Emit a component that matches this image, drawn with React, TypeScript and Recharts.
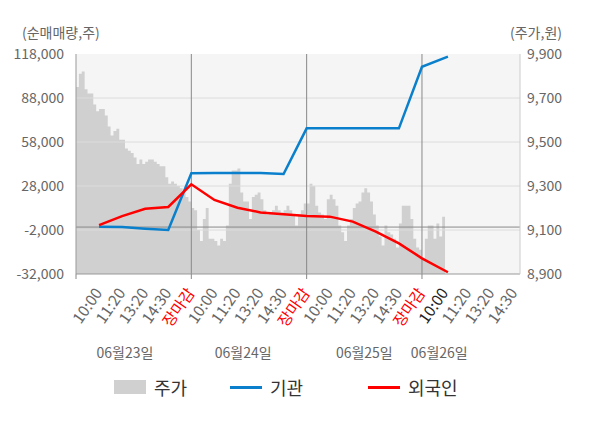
import {
  Area,
  CartesianGrid,
  ComposedChart,
  Line,
  ReferenceLine,
  XAxis,
  YAxis,
} from 'recharts'

// 4거래일 분봉 차트: 주가(면적) + 기관/외국인 누적 순매매량(선)
// x축 단위: 하루 = 40칸 (09:00 ~ 장마감)

const FONT = '"Noto Sans CJK KR", "Noto Sans", sans-serif'
const DAY_UNITS = 40
const X_MAX = 154

const dayLabels = ['06월23일', '06월24일', '06월25일', '06월26일']
const dayLabelAt = [17, 58, 100, 126]
const sessionLabels = ['10:00', '11:20', '13:20', '14:30', '장마감']
const sessionOffsets = [8, 16, 24, 32, 40]

// 주가 (원), 한 칸마다 한 값
const priceDay1 = [
  9750, 9810, 9820, 9740, 9720, 9720, 9670, 9640, 9650, 9650,
  9620, 9570, 9530, 9550, 9560, 9510, 9510, 9470, 9460, 9450,
  9430, 9400, 9420, 9400, 9410, 9420, 9420, 9410, 9400, 9390,
  9390, 9340, 9310, 9320, 9310, 9300, 9290, 9270, 9250, 9230,
]
const priceDay2 = [
  9200, 9190, 9100, 9050, 9150, 9200, 9060, 9060, 9050, 9030,
  9060, 9050, 9120, 9310, 9370, 9370, 9380, 9270, 9230, 9230,
  9150, 9250, 9260, 9270, 9240, 9190, 9170, 9180, 9190, 9210,
  9190, 9180, 9190, 9210, 9190, 9170, 9120, 9170, 9190, 9220,
]
const priceDay3 = [
  9220, 9310, 9300, 9210, 9180, 9170, 9150, 9240, 9260, 9240,
  9210, 9120, 9090, 9050, 9120, 9150, 9200, 9220, 9230, 9270,
  9290, 9270, 9230, 9170, 9120, 9070, 9030, 9120, 9090, 9080,
  9060, 9020, 9130, 9210, 9210, 9210, 9150, 9060, 9020, 9010,
]
const priceDay4 = [8970, 9060, 9120, 9120, 9060, 9130, 9070, 9160, 9140]
const price = [...priceDay1, ...priceDay2, ...priceDay3, ...priceDay4]

// 누적 순매매량 (주)
const flowTimes = [8, 16, 24, 32, 40, 48, 56, 64, 72, 80, 88, 96, 104, 112, 120, 129]
const institution = [
  200, 100, -1100, -2000, 36700, 36800, 36800, 36800, 36200, 67300,
  67300, 67300, 67300, 67300, 109300, 116200,
]
const foreigner = [
  1300, 7500, 12500, 13700, 29200, 18500, 13200, 10000, 8700, 7600,
  7100, 3700, -3100, -11100, -21300, -30800,
]

const leftTicks = [-32000, -2000, 28000, 58000, 88000, 118000]
const rightTicks = [8900, 9100, 9300, 9500, 9700, 9900]
const gridValues = [-2000, 28000, 58000, 88000]
const dayBreaks = [0, 40, 80, 120]

const series = [
  { key: 'price', name: '주가', color: '#d0d0d0' },
  { key: 'inst', name: '기관', color: '#0a80cc' },
  { key: 'frg', name: '외국인', color: '#ff0000' },
]

const lastT = Math.max(price.length - 1, flowTimes[flowTimes.length - 1])
const chartData = Array.from({ length: lastT + 1 }, (_, t) => {
  const k = flowTimes.indexOf(t)
  return {
    t,
    price: price[t],
    inst: k >= 0 ? institution[k] : undefined,
    frg: k >= 0 ? foreigner[k] : undefined,
  }
})

const timeTicks = dayLabels
  .flatMap((_, d) =>
    sessionOffsets.map((o, i) => ({ t: d * DAY_UNITS + o, label: sessionLabels[i], day: d }))
  )
  .filter((tk) => tk.t <= X_MAX)
const currentT = timeTicks.find((tk) => tk.day === dayLabels.length - 1)?.t
const tickInfo = new Map(timeTicks.map((tk) => [tk.t, tk]))
const xTicks = Array.from(new Set([0, ...timeTicks.map((tk) => tk.t)])).sort((a, b) => a - b)

const fmt = (v: number) => v.toLocaleString('en-US')

function TimeTick({ x, y, payload }: { x?: number; y?: number; payload?: { value: number } }) {
  if (x == null || y == null || !payload) return null
  const info = tickInfo.get(payload.value)
  const isBreak = dayBreaks.includes(payload.value)
  let color = '#666'
  if (info?.label === '장마감') color = '#ff0000'
  else if (payload.value === currentT) color = '#222'
  return (
    <g>
      {isBreak && <line x1={x} x2={x} y1={y} y2={y + 5} stroke="#888" />}
      {info && (
        <text
          transform={`translate(${x + 4},${y + 19}) rotate(-55)`}
          textAnchor="end"
          fontSize={15.5}
          fill={color}
        >
          {info.label}
        </text>
      )}
    </g>
  )
}

function AxisTitle({
  viewBox,
  text,
  side,
}: {
  viewBox?: { x: number; y: number; width: number; height: number }
  text: string
  side: 'left' | 'right'
}) {
  if (!viewBox) return null
  const x = side === 'left' ? viewBox.x + 14 : viewBox.x + 16
  return (
    <text
      x={x}
      y={viewBox.y - 16}
      textAnchor={side === 'left' ? 'start' : 'middle'}
      fontSize={14}
      fill="#666"
    >
      {text}
    </text>
  )
}

function ChartLegend() {
  const widths = [116, 138, undefined]
  return (
    <div
      style={{
        position: 'absolute',
        left: 114,
        top: 374,
        display: 'flex',
        alignItems: 'center',
        fontFamily: FONT,
        fontSize: 18,
        color: '#333',
      }}
    >
      {series.map((s, i) => (
        <div key={s.key} style={{ display: 'flex', alignItems: 'center', width: widths[i] }}>
          <span
            style={{
              display: 'inline-block',
              width: 32,
              height: s.key === 'price' ? 14 : 3,
              background: s.color,
              marginRight: 8,
            }}
          />
          <span>{s.name}</span>
        </div>
      ))}
    </div>
  )
}

export default function App() {
  return (
    <div style={{ position: 'absolute', left: 0, top: 0, width: 600, height: 428, fontFamily: FONT }}>
      <ComposedChart
        width={600}
        height={428}
        data={chartData}
        margin={{ top: 54, right: 8, bottom: 60, left: 8 }}
        style={{ fontFamily: FONT }}
      >
        <CartesianGrid yAxisId="left" fill="#f5f5f5" horizontal={false} vertical={false} />
        <XAxis
          dataKey="t"
          type="number"
          domain={[0, X_MAX]}
          ticks={xTicks}
          interval={0}
          height={64}
          tickSize={0}
          tickMargin={0}
          tickLine={false}
          axisLine={{ stroke: '#999' }}
          tick={<TimeTick />}
        />
        <XAxis
          xAxisId="date"
          dataKey="t"
          type="number"
          domain={[0, X_MAX]}
          ticks={dayLabelAt}
          interval={0}
          height={30}
          tickSize={0}
          tickMargin={10}
          tickLine={false}
          axisLine={false}
          tickFormatter={(v: number) => dayLabels[dayLabelAt.indexOf(v)] ?? ''}
          tick={{ fontSize: 14, fill: '#666' }}
        />
        <YAxis
          yAxisId="left"
          domain={[-32000, 118000]}
          ticks={leftTicks}
          interval={0}
          width={68}
          tickLine={false}
          tickMargin={6}
          axisLine={{ stroke: '#999' }}
          tickFormatter={fmt}
          tick={{ fontSize: 14, fill: '#666' }}
          label={<AxisTitle text="(순매매량,주)" side="left" />}
        />
        <YAxis
          yAxisId="right"
          orientation="right"
          domain={[8900, 9900]}
          ticks={rightTicks}
          interval={0}
          width={72}
          tickLine={false}
          tickMargin={1}
          axisLine={{ stroke: '#ccc' }}
          tickFormatter={fmt}
          tick={{ fontSize: 14, fill: '#666' }}
          label={<AxisTitle text="(주가,원)" side="right" />}
        />
        <Area
          yAxisId="right"
          dataKey="price"
          type="stepAfter"
          fill="#d0d0d0"
          fillOpacity={1}
          stroke="none"
          baseValue={8900}
          isAnimationActive={false}
          activeDot={false}
        />
        {gridValues.map((v) => (
          <ReferenceLine key={v} yAxisId="left" y={v} stroke="#dcdcdc" />
        ))}
        <ReferenceLine yAxisId="left" y={0} stroke="#888" />
        {dayBreaks.slice(1).map((v) => (
          <ReferenceLine key={v} yAxisId="left" x={v} stroke="#888" />
        ))}
        <Line
          yAxisId="left"
          dataKey="inst"
          stroke="#0a80cc"
          strokeWidth={2.5}
          dot={false}
          connectNulls
          isAnimationActive={false}
        />
        <Line
          yAxisId="left"
          dataKey="frg"
          stroke="#ff0000"
          strokeWidth={2.5}
          dot={false}
          connectNulls
          isAnimationActive={false}
        />
      </ComposedChart>
      <ChartLegend />
    </div>
  )
}
